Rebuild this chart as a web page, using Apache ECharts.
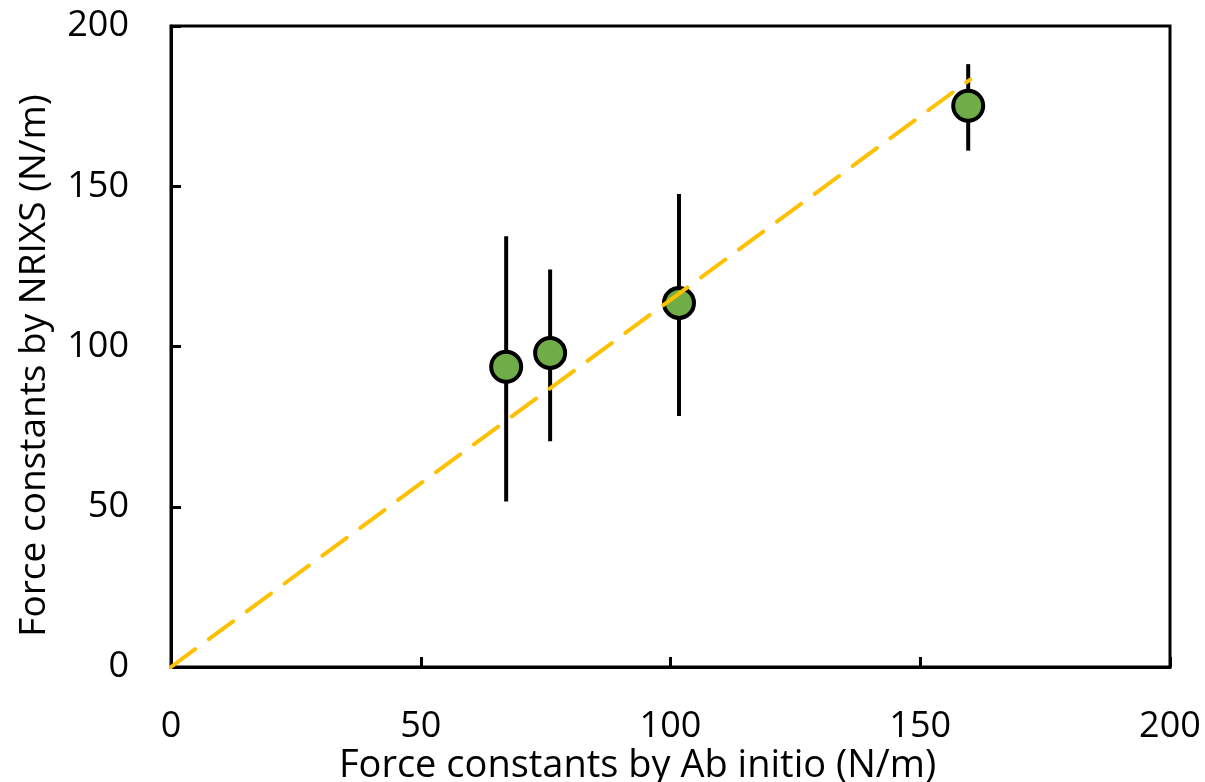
<!DOCTYPE html>
<html>
<head>
<meta charset="utf-8">
<script src="https://cdn.jsdelivr.net/npm/echarts@6/dist/echarts.min.js"></script>
<style>
  html, body { margin: 0; padding: 0; background: #fff; }
  #chart { width: 1205px; height: 782px; }
</style>
</head>
<body>
<div id="chart"></div>
<script>
// Force constants: ab initio (x) vs NRIXS (y), with NRIXS uncertainty ranges
const abInitio = [67.1, 75.9, 101.7, 159.6];
const nrixs = [93.7, 98.0, 113.6, 175.1];
const nrixsLow = [51.6, 70.4, 78.3, 161.1];
const nrixsHigh = [134.4, 124.0, 147.6, 188.1];
// Linear fit through the origin
const fitX = [0, 160];
const fitY = [0, 183.3];

const FONT = '"Open Sans", "Noto Sans", sans-serif';

const points = abInitio.map((x, i) => [x, nrixs[i]]);
const bars = abInitio.map((x, i) => [x, nrixsLow[i], nrixsHigh[i]]);
const fitLine = fitX.map((x, i) => [x, fitY[i]]);

const chart = echarts.init(document.getElementById('chart'), null, { renderer: 'canvas' });

chart.setOption({
  animation: false,
  backgroundColor: '#ffffff',
  grid: {
    left: 171, right: 35, top: 26, bottom: 115,
    outerBoundsMode: 'none', containLabel: false,
    show: true, borderColor: '#000', borderWidth: 3, backgroundColor: 'transparent'
  },
  xAxis: {
    type: 'value', min: 0, max: 200, interval: 50,
    name: 'Force constants by Ab initio (N/m)',
    nameLocation: 'middle', nameGap: 80, nameMoveOverlap: false,
    nameTextStyle: { fontFamily: FONT, fontSize: 38, color: '#000', padding: [0, 66, 0, 0] },
    axisLine: { show: true, onZero: false, lineStyle: { color: '#000', width: 3 } },
    axisTick: { show: true, inside: true, length: 10, lineStyle: { color: '#000', width: 3 } },
    axisLabel: { fontFamily: FONT, fontSize: 36, color: '#000', margin: 42 },
    splitLine: { show: false }
  },
  yAxis: {
    type: 'value', min: 0, max: 200, interval: 50,
    name: 'Force constants by NRIXS (N/m)',
    nameLocation: 'middle', nameGap: 118, nameMoveOverlap: false,
    nameTextStyle: { fontFamily: FONT, fontSize: 37, color: '#000', padding: [0, 38, 0, 0] },
    axisLine: { show: true, onZero: false, lineStyle: { color: '#000', width: 3 } },
    axisTick: { show: true, inside: true, length: 10, lineStyle: { color: '#000', width: 3 } },
    axisLabel: { fontFamily: FONT, fontSize: 36, color: '#000', margin: 42 },
    splitLine: { show: false }
  },
  series: [
    {
      name: 'range',
      type: 'custom',
      z: 1,
      renderItem: function (params, api) {
        const top = api.coord([api.value(0), api.value(2)]);
        const bot = api.coord([api.value(0), api.value(1)]);
        return {
          type: 'line',
          shape: { x1: top[0], y1: top[1], x2: bot[0], y2: bot[1] },
          style: { stroke: '#000', lineWidth: 4 }
        };
      },
      encode: { x: 0, y: [1, 2] },
      data: bars
    },
    {
      name: 'NRIXS',
      type: 'scatter',
      z: 2,
      symbol: 'circle',
      symbolSize: 30,
      itemStyle: { color: '#70AD47', borderColor: '#000', borderWidth: 4, opacity: 1 },
      data: points
    },
    {
      name: 'fit',
      type: 'line',
      z: 3,
      symbol: 'none',
      lineStyle: { color: '#FFC000', width: 4, type: [30, 17], cap: 'round' },
      data: fitLine
    }
  ]
});
</script>
</body>
</html>
